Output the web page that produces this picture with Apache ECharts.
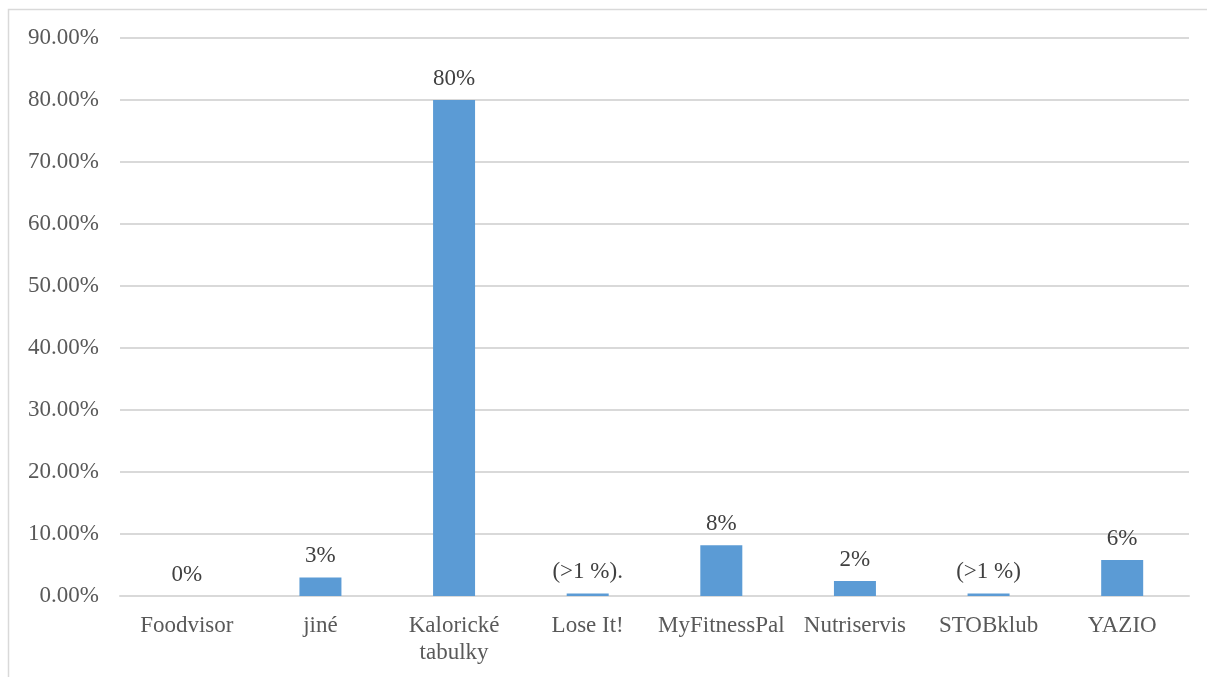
<!DOCTYPE html>
<html>
<head>
<meta charset="utf-8">
<script src="https://cdn.jsdelivr.net/npm/echarts@6/dist/echarts.min.js"></script>
<style>
html,body{margin:0;padding:0;background:#fff;}
#chart{width:1207px;height:677px;}
</style>
</head>
<body>
<div id="chart"></div>
<script>
const categories = ['Foodvisor', 'jiné', 'Kalorické\ntabulky', 'Lose It!', 'MyFitnessPal', 'Nutriservis', 'STOBklub', 'YAZIO'];
const values = [0, 3.0, 80.0, 0.4, 8.2, 2.4, 0.4, 5.8];
const valueLabels = ['0%', '3%', '80%', '(>1 %).', '8%', '2%', '(>1 %)', '6%'];

const chart = echarts.init(document.getElementById('chart'), null, {renderer: 'canvas'});
const font = '"Liberation Serif", "Times New Roman", serif';
chart.setOption({
  animation: false,
  backgroundColor: '#fff',
  grid: {left: 120, right: 18, top: 38, bottom: 81, containLabel: false},
  graphic: [
    {type: 'polyline', shape: {points: [[8.5, 677], [8.5, 9.5], [1207, 9.5]]}, style: {stroke: '#d9d9d9', lineWidth: 1.5, fill: null}, silent: true}
  ],
  xAxis: {
    type: 'category',
    data: categories,
    axisLine: {show: true, lineStyle: {color: '#d9d9d9', width: 2}},
    axisTick: {show: false},
    axisLabel: {color: '#595959', fontFamily: font, fontSize: 23, margin: 16, lineHeight: 27, interval: 0}
  },
  yAxis: {
    type: 'value',
    min: 0, max: 90, interval: 10,
    axisLine: {show: false},
    axisTick: {show: false},
    splitLine: {lineStyle: {color: '#d9d9d9', width: 2}},
    axisLabel: {color: '#595959', fontFamily: font, fontSize: 23, margin: 21, formatter: v => v.toFixed(2) + '%'}
  },
  series: [{
    type: 'bar',
    data: values,
    barWidth: 42,
    itemStyle: {color: '#5b9bd5'},
    label: {
      show: true, position: 'top', distance: 10,
      color: '#404040', fontFamily: font, fontSize: 23,
      formatter: p => valueLabels[p.dataIndex]
    }
  }]
});
</script>
</body>
</html>
